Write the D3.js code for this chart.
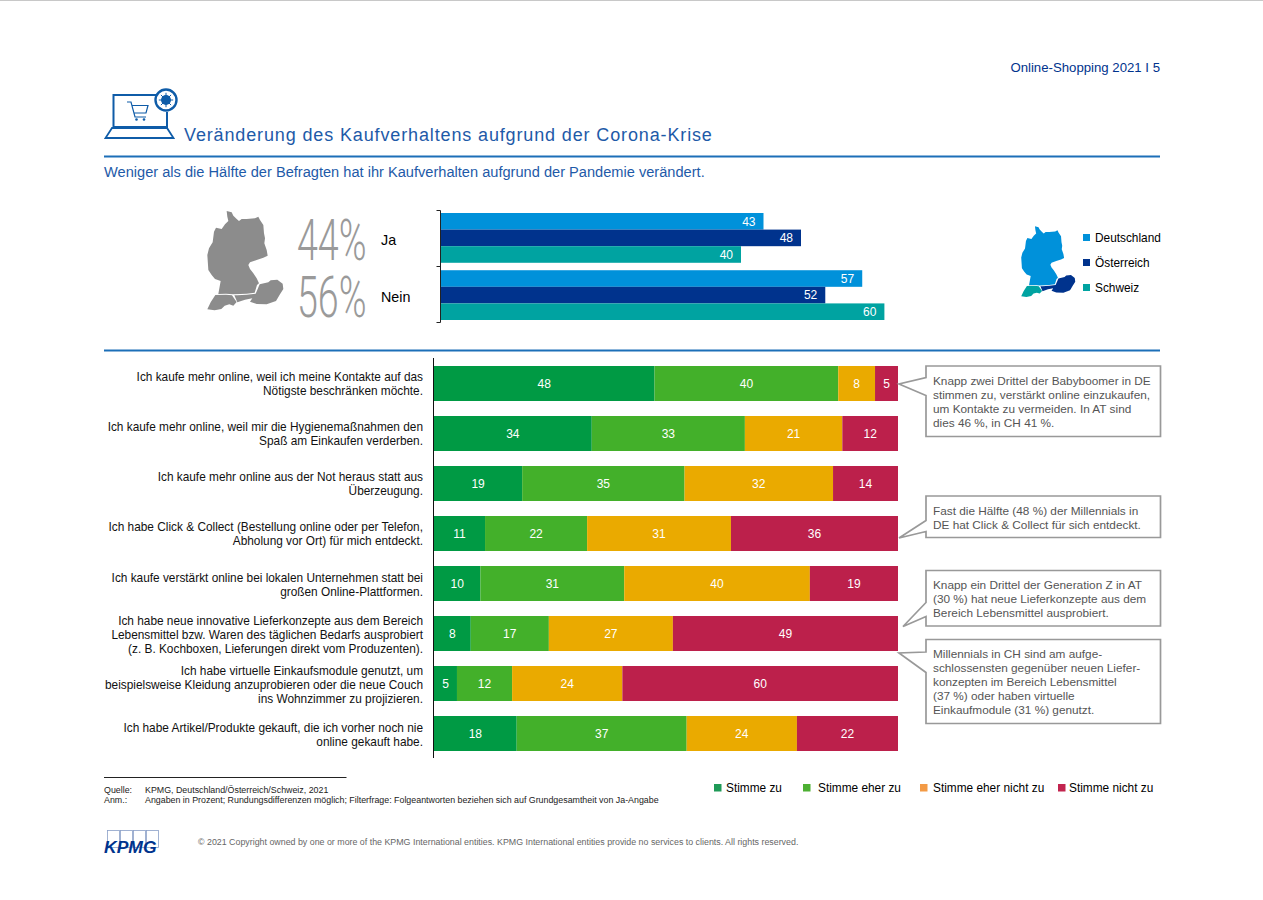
<!DOCTYPE html>
<html lang="de"><head><meta charset="utf-8">
<script src="https://cdn.jsdelivr.net/npm/d3@7"></script>
<style>
html,body{margin:0;padding:0;background:#fff}
svg{display:block}
text{font-family:"Liberation Sans",Arial,sans-serif}
</style></head><body>
<svg id="c" width="1263" height="900"></svg>
<script>
// ---------- data ----------
const countries = ["Deutschland","Österreich","Schweiz"];
const topGroups = ["Ja","Nein"];
const jaValues = [43,48,40];
const neinValues = [57,52,60];
const bigPercents = ["44%","56%"];
const answers = ["Stimme zu","Stimme eher zu","Stimme eher nicht zu","Stimme nicht zu"];
const statements = [
 ["Ich kaufe mehr online, weil ich meine Kontakte auf das","Nötigste beschränken möchte."],
 ["Ich kaufe mehr online, weil mir die Hygienemaßnahmen den","Spaß am Einkaufen verderben."],
 ["Ich kaufe mehr online aus der Not heraus statt aus","Überzeugung."],
 ["Ich habe Click & Collect (Bestellung online oder per Telefon,","Abholung vor Ort) für mich entdeckt."],
 ["Ich kaufe verstärkt online bei lokalen Unternehmen statt bei","großen Online-Plattformen."],
 ["Ich habe neue innovative Lieferkonzepte aus dem Bereich","Lebensmittel bzw. Waren des täglichen Bedarfs ausprobiert","(z. B. Kochboxen, Lieferungen direkt vom Produzenten)."],
 ["Ich habe virtuelle Einkaufsmodule genutzt, um","beispielsweise Kleidung anzuprobieren oder die neue Couch","ins Wohnzimmer zu projizieren."],
 ["Ich habe Artikel/Produkte gekauft, die ich vorher noch nie","online gekauft habe."]
];
const stimmeZu      = [48,34,19,11,10, 8, 5,18];
const stimmeEherZu  = [40,33,35,22,31,17,12,37];
const eherNichtZu   = [ 8,21,32,31,40,27,24,24];
const stimmeNichtZu = [ 5,12,14,36,19,49,60,22];
const notes = [
 ["Knapp zwei Drittel der Babyboomer in DE","stimmen zu, verstärkt online einzukaufen,","um Kontakte zu vermeiden. In AT sind","dies 46 %, in CH 41 %."],
 ["Fast die Hälfte (48 %) der Millennials in","DE hat Click & Collect für sich entdeckt."],
 ["Knapp ein Drittel der Generation Z in AT","(30 %) hat neue Lieferkonzepte aus dem","Bereich Lebensmittel ausprobiert."],
 ["Millennials in CH sind am aufge-","schlossensten gegenüber neuen Liefer-","konzepten im Bereich Lebensmittel","(37 %) oder haben virtuelle","Einkaufmodule (31 %) genutzt."]
];
// ---------- styling ----------
const BLUE="#1e5aa8", LINE="#1c6fb8";
const countryColors=["#0091da","#00338d","#00a3a1"];
const answerColors=["#009a44","#43b02a","#eaaa00","#bc204b"];
const legendColors=["#1f9a57","#4db033","#f39a45","#c2244f"];
const svg=d3.select("#c");

function txt(x,y,s,o={}){
  const t=svg.append("text").attr("x",x).attr("y",y).text(s)
   .attr("font-size",o.size||12).attr("fill",o.fill||"#000")
   .attr("text-anchor",o.anchor||"start");
  if(o.ls!=null)t.attr("letter-spacing",o.ls);
  if(o.weight)t.attr("font-weight",o.weight);
  return t;
}
function rule(x1,x2,y,c,w){svg.append("line").attr("x1",x1).attr("x2",x2).attr("y1",y).attr("y2",y).attr("stroke",c).attr("stroke-width",w);}

// header
svg.append("line").attr("x1",0).attr("x2",1263).attr("y1",0.5).attr("y2",0.5).attr("stroke","#c8c8c8");
txt(1160,72,"Online-Shopping 2021 I 5",{anchor:"end",fill:"#00338d",size:13.2});
txt(184,140.5,"Veränderung des Kaufverhaltens aufgrund der Corona-Krise",{size:18,fill:BLUE,ls:0.865});
rule(104,1160,156.5,LINE,2);
txt(104,176.5,"Weniger als die Hälfte der Befragten hat ihr Kaufverhalten aufgrund der Pandemie verändert.",{size:14.62,fill:BLUE});
rule(104,1160,350.5,LINE,2);

// laptop icon
const ic=svg.append("g").attr("fill","none").attr("stroke","#0f5ca8").attr("stroke-width",2);
ic.append("path").attr("d","M156 95H113.5V127H167V112");
ic.append("path").attr("d","M112 128L105.5 138H173.5L167 128Z").attr("stroke-width",1.8);
ic.append("circle").attr("cx",166).attr("cy",100).attr("r",10.5).attr("fill","#fff").attr("stroke-width",2.4);
ic.append("circle").attr("cx",166).attr("cy",100).attr("r",5).attr("fill","#0f5ca8").attr("stroke","none");
d3.range(8).forEach(i=>{const a=i*Math.PI/4;ic.append("line").attr("x1",166).attr("y1",100)
  .attr("x2",166+7.2*Math.cos(a)).attr("y2",100+7.2*Math.sin(a)).attr("stroke-width",1);});
ic.append("path").attr("d","M127 102H131L135 117H146M132 105.5H148L146 113H134").attr("stroke-width",1.2);
ic.append("circle").attr("cx",136.5).attr("cy",119.5).attr("r",1.3).attr("fill","#0f5ca8").attr("stroke","none");
ic.append("circle").attr("cx",144).attr("cy",119.5).attr("r",1.3).attr("fill","#0f5ca8").attr("stroke","none");

// maps
const DE="M80 18L95 22L100 32L110 42L117 48L125 42L140 42L165 40L175 35L180 45L190 60L192 85L195 100L193 115L200 135L203 152L190 158L170 165L150 172L145 180L150 192L160 205L170 220L177 235L171 240L164 263L140 266L100 268L78 266L55 267L62 228L45 222L35 210L25 195L22 150L27 130L38 112L42 80L48 68L65 72L75 58L85 48L82 35Z";
const AT="M179 238L205 232L212 226L232 224L248 236L250 252L240 268L228 288L200 298L170 297L150 290L157 280L135 284L112 292L103 271L112 271L140 269L167 266Z";
const CH="M46 270L78 269L96 271L102 280L110 291L100 302L88 298L74 302L64 312L44 316L22 313L32 292Z";
function map(tx,ty,s,cols){
  const g=svg.append("g").attr("transform",`translate(${tx},${ty}) scale(${s})`);
  [DE,AT,CH].forEach((d,i)=>g.append("path").attr("d",d).attr("fill",cols[i]));
}
map(200,205,1/3,["#8c8c8c","#8c8c8c","#8c8c8c"]);
map(1016,222,0.237,countryColors);

// big percentages
bigPercents.forEach((p,i)=>{
  svg.append("text").attr("transform",`translate(297,${[260,316.5][i]}) scale(0.66,1)`)
    .attr("font-size",57).attr("font-weight",300).attr("fill","#9a9a9a")
    .style("font-family","Roboto").text(p);
});
topGroups.forEach((g,i)=>txt(381,[244.5,301.5][i],g,{size:14.3}));

// top bars
const topBand=d3.scaleBand().domain(topGroups).range([213,320]).paddingInner(0.13).paddingOuter(0);
const topX={Ja:d3.scaleLinear([0,100],[441,1191]),Nein:d3.scaleLinear([0,100],[441,1180])};
const topInner=d3.scaleBand().domain(countries).range([0,topBand.bandwidth()]);
[jaValues,neinValues].forEach((vals,gi)=>{
  const g=topGroups[gi], x=topX[g];
  vals.forEach((v,i)=>{
    const y=topBand(g)+topInner(countries[i]);
    svg.append("rect").attr("x",x(0)).attr("y",y).attr("width",x(v)-x(0)).attr("height",topInner.bandwidth()).attr("fill",countryColors[i]);
    txt(x(v)-8,y+topInner.bandwidth()/2+4.3,v,{anchor:"end",fill:"#fff",size:12});
  });
});
svg.append("path").attr("d","M436.5 210.5H440.5V322.5H436.5M436.5 266.5H440.5").attr("fill","none").attr("stroke","#222");

// country legend
const legY=d3.scalePoint().domain(countries).range([238,288]);
countries.forEach((c,i)=>{
  svg.append("rect").attr("x",1083).attr("y",legY(c)-4).attr("width",7).attr("height",7).attr("fill",countryColors[i]);
  txt(1095,legY(c)+4,c,{size:11.85});
});

// stacked bars (each row normalised to full width, as in the original)
const rows=statements.map((s,i)=>{const o={i};answers.forEach((a,k)=>o[a]=[stimmeZu,stimmeEherZu,eherNichtZu,stimmeNichtZu][k][i]);return o;});
const stacked=d3.stack().keys(answers).offset(d3.stackOffsetExpand)(rows);
const x=d3.scaleLinear([0,1],[434,898]);
const y=d3.scaleBand().domain(d3.range(8)).range([358.5,758.5]).paddingInner(15/50).paddingOuter(7.5/50);
stacked.forEach((ser,k)=>{
  svg.append("g").selectAll("rect").data(ser).join("rect")
    .attr("x",d=>x(d[0])).attr("y",(d,i)=>y(i)).attr("width",d=>x(d[1])-x(d[0])).attr("height",y.bandwidth())
    .attr("fill",answerColors[k]);
  svg.append("g").selectAll("text").data(ser).join("text")
    .attr("x",d=>(x(d[0])+x(d[1]))/2).attr("y",(d,i)=>y(i)+y.bandwidth()/2+4.3)
    .attr("text-anchor","middle").attr("fill","#fff").attr("font-size",12)
    .text(d=>d.data[answers[k]]);
});
svg.append("line").attr("x1",433.5).attr("x2",433.5).attr("y1",358).attr("y2",758).attr("stroke","#111");

// statements
const labelCenter=[383.5,433.5,484,534,584.5,634.5,684.5,735];
statements.forEach((lines,i)=>{
  const lh=14, y0=labelCenter[i]-(lines.length-1)*lh/2+4;
  lines.forEach((l,j)=>txt(423,y0+j*lh,l,{anchor:"end",size:11.85,fill:"#111"}));
});

// callouts
const boxes=[
 {y0:366,y1:436.5,tip:[899,384],a:377.5,b:395.5},
 {y0:496,y1:537.5,tip:[899,538],a:520.5,b:531.5},
 {y0:570.5,y1:626,tip:[903,626.5],a:602.5,b:616.5},
 {y0:639.5,y1:723.5,tip:[899,653],a:652,b:672.5}
];
boxes.forEach((b,i)=>{
  const X0=926,X1=1160.5;
  svg.append("path").attr("d",`M${X0} ${b.y0}H${X1}V${b.y1}H${X0}V${b.b}L${b.tip[0]} ${b.tip[1]}L${X0} ${b.a}Z`)
    .attr("fill","#fff").attr("stroke","#999").attr("stroke-width",1.7);
  notes[i].forEach((l,j)=>txt(933,b.y0+18.5+j*14.1,l,{size:11.8,fill:"#555"}));
});

// answer legend
const lgSq=[714,803,920,1058], lgTx=[726,818,933,1069];
answers.forEach((a,i)=>{
  svg.append("rect").attr("x",lgSq[i]).attr("y",784).attr("width",7.5).attr("height",7.5).attr("fill",legendColors[i]);
  txt(lgTx[i],792,a,{size:11.85});
});

// footer
rule(104,346.5,777.5,"#222",1);
txt(104,793,"Quelle:",{size:8.85,fill:"#222"});
txt(145,793,"KPMG, Deutschland/Österreich/Schweiz, 2021",{size:8.85,fill:"#222"});
txt(104,803,"Anm.:",{size:8.85,fill:"#222"});
txt(145,803,"Angaben in Prozent; Rundungsdifferenzen möglich; Filterfrage: Folgeantworten beziehen sich auf Grundgesamtheit von Ja-Angabe",{size:8.85,fill:"#222"});
txt(198,845,"© 2021 Copyright owned by one or more of the KPMG International entities. KPMG International entities provide no services to clients. All rights reserved.",{size:8.85,fill:"#666"});
// logo
[107,120,133,146].forEach(bx=>svg.append("rect").attr("x",bx+0.5).attr("y",830.5).attr("width",12).attr("height",17).attr("fill","#fff").attr("stroke","#8aa0c8").attr("stroke-width",0.8));
svg.append("text").attr("transform","translate(104,853) scale(1.03,1)").attr("font-size",17).attr("font-weight","bold").attr("font-style","italic").attr("fill","#00338d").text("KPMG");
</script>
</body></html>
